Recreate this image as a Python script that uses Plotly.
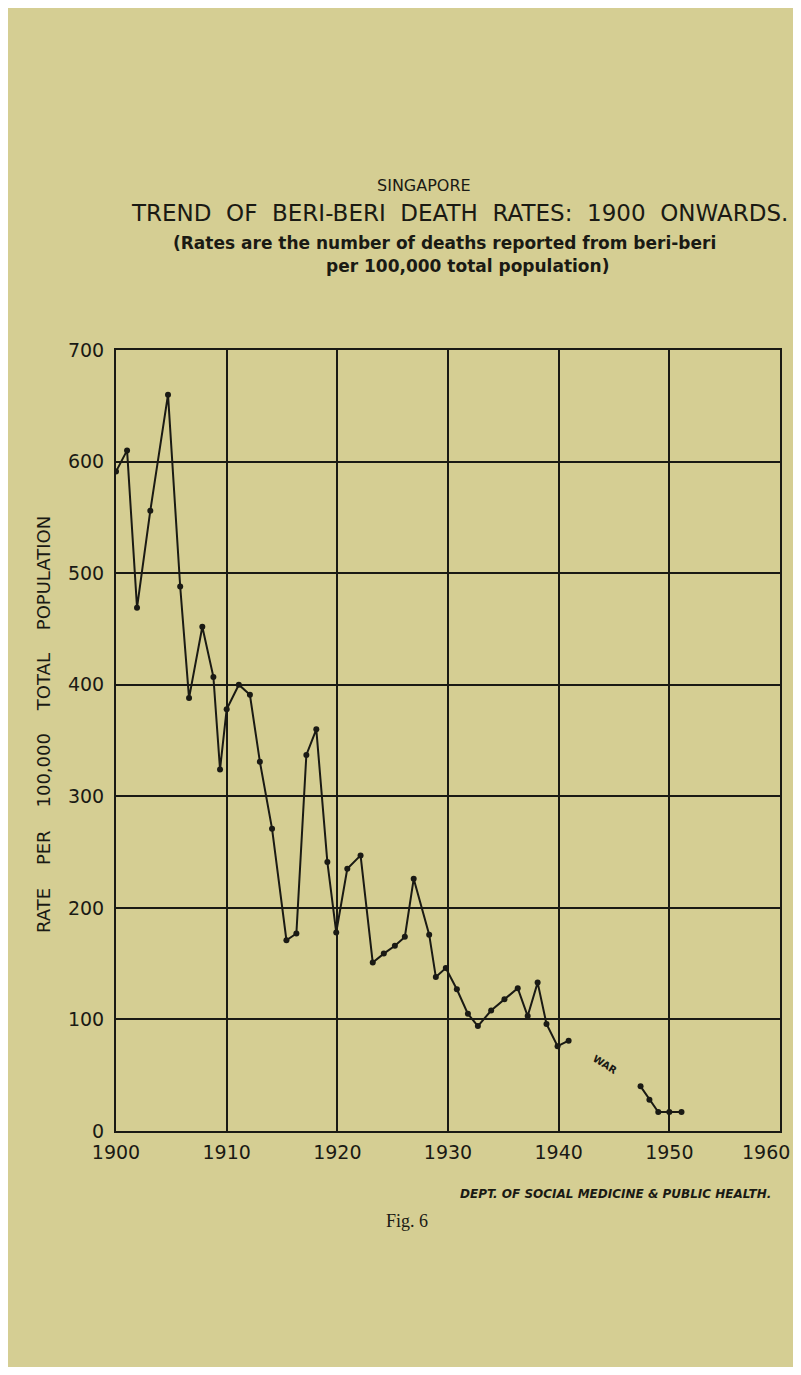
import plotly.graph_objects as go

# Beri-beri death rates per 100,000; None marks the war gap
years = [
    1900.0, 1901.0, 1901.9, 1903.1, 1904.7, 1905.8, 1906.6, 1907.8, 1908.8, 1909.4,
    1910.0, 1911.1, 1912.1, 1913.0, 1914.1, 1915.4, 1916.3, 1917.2, 1918.1, 1919.1,
    1919.9, 1920.9, 1922.1, 1923.2, 1924.2, 1925.2, 1926.1, 1926.9, 1928.3, 1928.9,
    1929.8, 1930.8, 1931.8, 1932.7, 1933.9, 1935.1, 1936.3, 1937.2, 1938.1, 1938.9,
    1939.9, 1940.9, 1944.0, 1947.4, 1948.2, 1949.0, 1950.0, 1951.1,
]
rates = [
    591, 610, 469, 556, 660, 488, 388, 452, 407, 324,
    378, 400, 391, 331, 271, 171, 177, 337, 360, 241,
    178, 235, 247, 151, 159, 166, 174, 226, 176, 138,
    146, 127, 105, 94, 108, 118, 128, 103, 133, 96,
    76, 81, None, 40, 28, 17, 17, 17,
]

x_ticks = [1900, 1910, 1920, 1930, 1940, 1950, 1960]
y_ticks = [0, 100, 200, 300, 400, 500, 600, 700]

paper = "#d5ce93"
ink = "#1a1a14"
font = "'DejaVu Sans', sans-serif"


def spaced(text, n):
    return ("\u00a0" * n).join(text.split(" "))


def note(x, y, text, size, family=font, angle=0):
    fig.add_annotation(
        xref="paper", yref="paper", x=x, y=y, text=text, showarrow=False,
        xanchor="center", yanchor="middle", textangle=angle,
        font={"family": family, "size": size, "color": ink},
    )


fig = go.Figure()
fig.add_trace(
    go.Scatter(
        x=years,
        y=rates,
        mode="lines+markers",
        connectgaps=False,
        line={"color": ink, "width": 2},
        marker={"color": ink, "size": 6},
        showlegend=False,
        hoverinfo="x+y",
    )
)

fig.add_annotation(x=1944.2, y=60, text="<b>WAR</b>", showarrow=False, textangle=32,
                   xanchor="center", yanchor="middle",
                   font={"family": font, "size": 10, "color": ink})

note(0.464, 1.211, "SINGAPORE", 16)
note(0.518, 1.175, spaced("TREND OF BERI-BERI DEATH RATES: 1900 ONWARDS.", 2), 23)
note(0.494, 1.137, "<b>(Rates are the number of deaths reported from beri-beri</b>", 17)
note(0.530, 1.108, "<b>per 100,000 total population)</b>", 17)
note(-0.110, 0.521, spaced("RATE PER 100,000 TOTAL POPULATION", 4), 18, angle=-90)
note(0.752, -0.081, "<b><i>DEPT. OF SOCIAL MEDICINE & PUBLIC HEALTH.</i></b>", 12)
note(0.438, -0.115, "Fig. 6", 18, family="'Liberation Serif', serif")

# last x label sits at the page edge; pull it in so it is not clipped
fig.add_annotation(
    x=x_ticks[-1], y=0, yref="paper", text=str(x_ticks[-1]), showarrow=False,
    xanchor="right", yanchor="top", xshift=12, yshift=-8,
    font={"family": font, "size": 19, "color": ink},
)

axis_style = {
    "showgrid": True,
    "gridcolor": ink,
    "gridwidth": 1.5,
    "showline": True,
    "linecolor": ink,
    "linewidth": 2,
    "mirror": True,
    "zeroline": False,
    "ticks": "",
    "automargin": False,
    "tickfont": {"family": font, "size": 19, "color": ink},
}

# page body adds an 8px margin round the figure, so the figure is 16px smaller
fig.update_layout(
    width=785,
    height=1359,
    paper_bgcolor=paper,
    plot_bgcolor=paper,
    margin={"l": 108, "r": 13, "t": 342, "b": 236},
    xaxis={**axis_style, "range": [1900, 1960], "tickvals": x_ticks,
           "ticktext": [str(t) for t in x_ticks[:-1]] + [""], "ticklabelstandoff": 3},
    yaxis={**axis_style, "range": [0, 700], "tickvals": y_ticks, "ticklabelstandoff": 6},
)

fig.write_html("out.html")
